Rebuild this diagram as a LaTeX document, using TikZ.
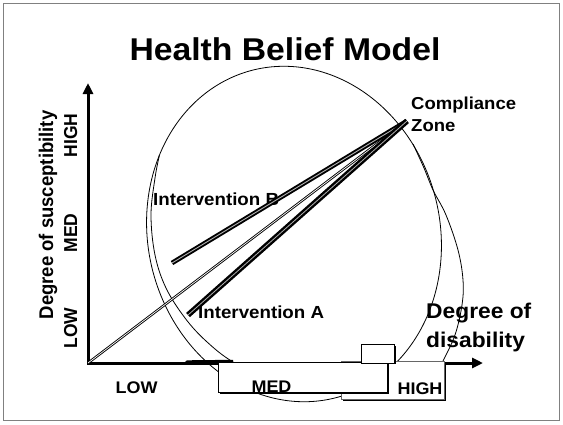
\documentclass[tikz,border=0pt]{standalone}
\usepackage{fontspec}
\setmainfont{Liberation Sans}
\usepackage{graphicx}
\usetikzlibrary{arrows.meta}
\newcommand{\hw}[1]{\scalebox{1.07}[1]{#1}}
\newcommand{\vw}[1]{\scalebox{1}[1.07]{#1}}
\begin{document}
\begin{tikzpicture}[x=1pt,y=-1pt,
  txt/.style={inner sep=0pt, font=\bfseries},
  axisline/.style={line width=3pt, line cap=rect},
  curveline/.style={line width=0.8pt},
  origline/.style={line width=0.9pt, double=white, double distance=0.7pt},
  lineB/.style={line width=1.9pt, double=gray!60, double distance=0.9pt},
  lineA/.style={line width=2.4pt, double=gray!60, double distance=0.8pt},
  boxshadow/.style={fill=black},
  boxface/.style={fill=white, draw=black, line width=1pt}]
\useasboundingbox (0,0) rectangle (563,424);
\fill[white] (0,0) rectangle (563,424);
\draw[gray, line width=1pt] (3.5,3.5) rectangle (559.5,420.5);

% ellipse and second curve
\draw[curveline] plot[domain=0:360, samples=180, variable=\t, smooth]
  ({294+146*cos(\t)*cos(14)-169*sin(\t)*sin(14)},{234-146*cos(\t)*sin(14)-169*sin(\t)*cos(14)});
\draw[curveline] plot[smooth, tension=0.6] coordinates {(159.4,155.3) (155,178) (151,215) (155,255) (166,288) (185,318) (206,341) (233,362) (275,383) (340,389) (405,389) (436,375) (443,361) (455,335) (462,305) (463,280) (458,250) (446,215) (433,190) (424,168) (413,144)};

% axes
\coordinate (O) at (88,363);
\coordinate (Ytop) at (88,83);
\coordinate (Xend) at (483,363);
\draw[axisline, -{Triangle[width=10pt,length=11pt]}] (O) -- (Ytop);
\draw[axisline, -{Triangle[width=10pt,length=11pt]}] (O) -- (Xend);
\fill (185,362) -- (187,360.3) -- (233,359.8) -- (233,362) -- cycle;

% boxes
\fill[boxshadow] (342.5,363) rectangle (446,401);
\filldraw[boxface, draw=gray!80!black] (341,361.5) rectangle (444,399);
\fill[boxshadow] (219.5,364) rectangle (389,393.5);
\filldraw[boxface] (218,362.5) rectangle (387,392);
\fill[boxshadow] (362.5,345.5) rectangle (395.5,364);
\filldraw[boxface] (361,344) rectangle (394,363);

% texts
\node[txt, anchor=base] (title) at (285,60) {\fontsize{31.5}{32}\selectfont\hw{Health Belief Model}};
\node[txt, anchor=base west] (comp1) at (411,109) {\fontsize{17.3}{17}\selectfont\hw{Compliance}};
\node[txt, anchor=base west] (comp2) at (411,131) {\fontsize{17.3}{17}\selectfont\hw{Zone}};
\node[txt, anchor=base west] (intB) at (153,205) {\fontsize{17.5}{17}\selectfont\hw{Intervention B}};
\node[txt, anchor=base west] (intA) at (198,318) {\fontsize{17.5}{17}\selectfont\hw{Intervention A}};
\node[txt, anchor=base west] (dis1) at (426,318) {\fontsize{21.3}{21}\selectfont\hw{Degree of}};
\node[txt, anchor=base west] (dis2) at (426,347) {\fontsize{21.3}{21}\selectfont\hw{disability}};
\node[txt, anchor=base] (xlow) at (136.5,393) {\fontsize{16.8}{17}\selectfont\hw{LOW}};
\node[txt, anchor=base] (xmed) at (271.5,392) {\fontsize{16.8}{17}\selectfont\hw{MED}};
\node[txt, anchor=base] (xhigh) at (420,394) {\fontsize{16.8}{17}\selectfont\hw{HIGH}};
\node[txt, anchor=base, rotate=90] (ylab) at (53,215) {\fontsize{18.5}{18}\selectfont\vw{Degree of susceptibility}};
\node[txt, anchor=base, rotate=90] (ylow) at (77,328) {\fontsize{17.5}{17}\selectfont\vw{LOW}};
\node[txt, anchor=base, rotate=90] (ymed) at (77,233) {\fontsize{17.5}{17}\selectfont\vw{MED}};
\node[txt, anchor=base, rotate=90] (yhigh) at (77,135.5) {\fontsize{17.5}{17}\selectfont\vw{HIGH}};

% intervention lines
\coordinate (C) at (407,121);
\coordinate (Bs) at (172,263);
\coordinate (As) at (188,315);
\draw[origline] (O) -- (C);
\draw[lineB] (Bs) -- (C);
\draw[lineA] (As) -- (C);
\end{tikzpicture}
\end{document}
